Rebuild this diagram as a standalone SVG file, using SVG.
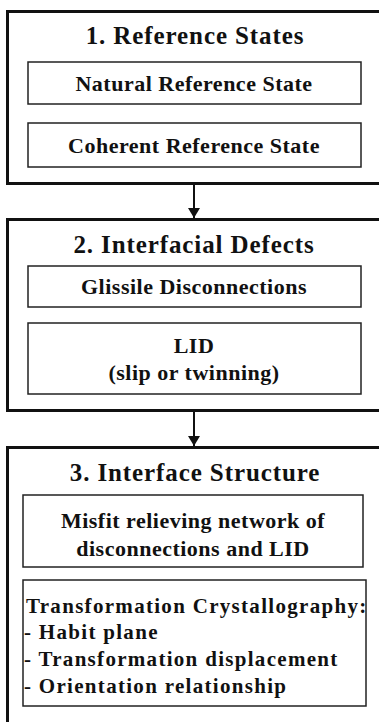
<svg xmlns="http://www.w3.org/2000/svg" width="379" height="722" viewBox="0 0 379 722">
<defs>
<marker id="ah" markerWidth="10" markerHeight="12" refX="10" refY="6" orient="auto" markerUnits="userSpaceOnUse">
<path d="M0,0 L10,6 L0,12 Z" fill="#111"/>
</marker>
</defs>
<rect width="379" height="722" fill="#fff"/>
<g font-family="Liberation Serif" font-weight="bold" fill="#111">
<g id="node1">
<rect x="7.5" y="11.5" width="380" height="172" fill="none" stroke="#111" stroke-width="3"/>
<text x="195" y="44" font-size="25" text-anchor="middle" letter-spacing="0.9">1. Reference States</text>
<rect x="28" y="62" width="333" height="42" fill="none" stroke="#222" stroke-width="1.5"/>
<text x="194" y="91" font-size="22" text-anchor="middle" letter-spacing="0.5">Natural Reference State</text>
<rect x="28" y="123" width="333" height="44" fill="none" stroke="#222" stroke-width="1.5"/>
<text x="194" y="153" font-size="22" text-anchor="middle" letter-spacing="0.5">Coherent Reference State</text>
</g>
<g id="node2">
<rect x="7.5" y="219.5" width="380" height="191" fill="none" stroke="#111" stroke-width="3"/>
<text x="194" y="253" font-size="25" text-anchor="middle" letter-spacing="0.9">2. Interfacial Defects</text>
<rect x="28" y="266" width="333" height="41" fill="none" stroke="#222" stroke-width="1.5"/>
<text x="194" y="294" font-size="22" text-anchor="middle" letter-spacing="0.5">Glissile Disconnections</text>
<rect x="28" y="323" width="333" height="71" fill="none" stroke="#222" stroke-width="1.5"/>
<text x="194" y="353" font-size="22" text-anchor="middle" letter-spacing="0.5">LID</text>
<text x="194" y="380" font-size="22" text-anchor="middle" letter-spacing="0.5">(slip or twinning)</text>
</g>
<g id="node3">
<rect x="7.5" y="447.5" width="380" height="290" fill="none" stroke="#111" stroke-width="3"/>
<text x="195" y="481" font-size="25" text-anchor="middle" letter-spacing="0.9">3. Interface Structure</text>
<rect x="23" y="495" width="340" height="72" fill="none" stroke="#222" stroke-width="1.5"/>
<text x="193" y="528" font-size="22" text-anchor="middle" letter-spacing="0.5">Misfit relieving network of</text>
<text x="193" y="556" font-size="22" text-anchor="middle" letter-spacing="0.5">disconnections and LID</text>
<rect x="23" y="580" width="343" height="126" fill="none" stroke="#222" stroke-width="1.5"/>
<g font-size="21" letter-spacing="1.3">
<text x="26" y="613">Transformation Crystallography:</text>
<text x="24" y="639">- Habit plane</text>
<text x="24" y="666">- Transformation displacement</text>
<text x="24" y="693">- Orientation relationship</text>
</g>
</g>
</g>
<g id="connectors" stroke="#111" stroke-width="2" fill="none">
<line x1="194" y1="184" x2="194" y2="218" marker-end="url(#ah)"/>
<line x1="194" y1="411" x2="194" y2="446" marker-end="url(#ah)"/>
</g>
</svg>
